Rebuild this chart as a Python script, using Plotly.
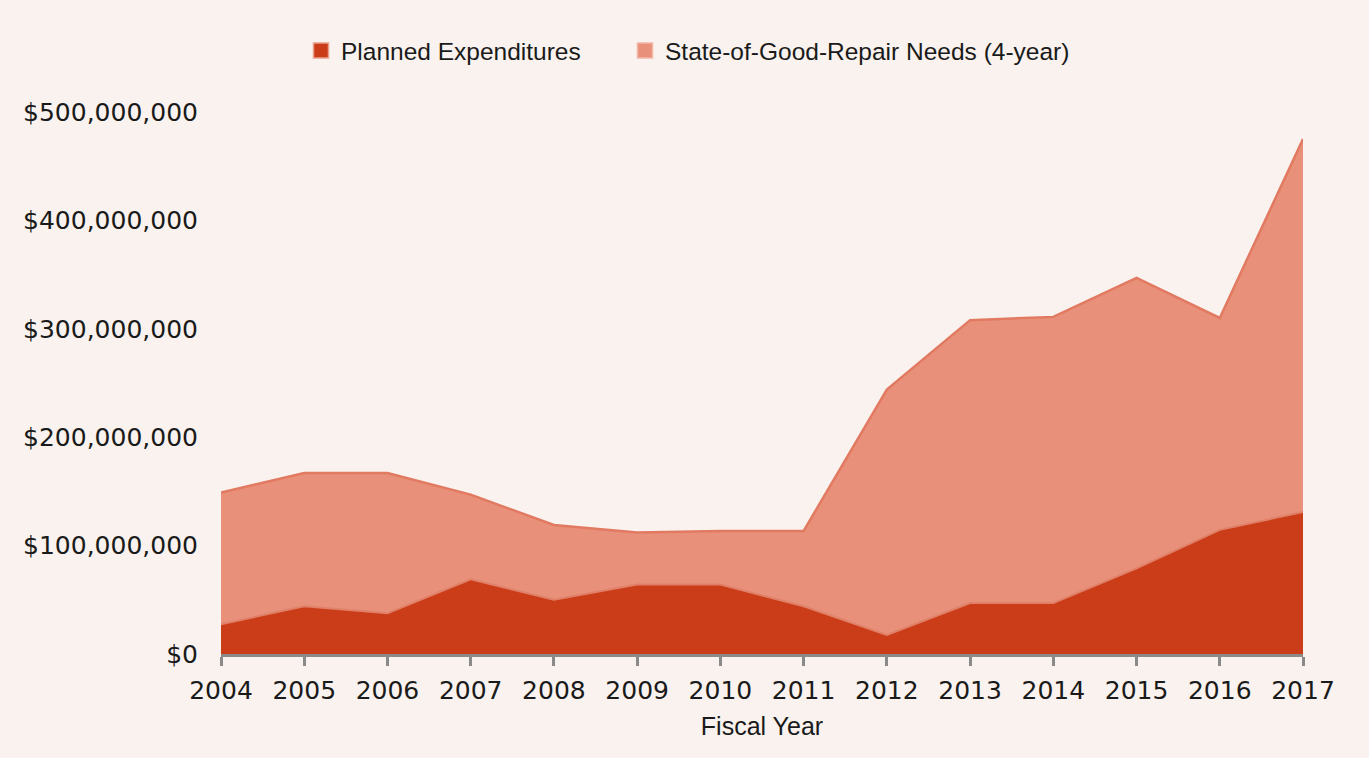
import plotly.graph_objects as go

# Fiscal years and dollar amounts (millions of dollars)
years = [2004, 2005, 2006, 2007, 2008, 2009, 2010, 2011, 2012, 2013, 2014, 2015, 2016, 2017]
planned_musd = [27.5, 44, 37.5, 69, 50, 64, 64, 44, 17.5, 47, 47, 79, 114.5, 131]
sogr_needs_musd = [149, 167, 167, 147, 119, 112, 113.5, 113.5, 244, 308, 311, 347, 310, 475]
y_ticks = [0, 100e6, 200e6, 300e6, 400e6, 500e6]
y_tick_labels = ["$0", "$100,000,000", "$200,000,000", "$300,000,000", "$400,000,000", "$500,000,000"]

planned = [v * 1e6 for v in planned_musd]
needs = [v * 1e6 for v in sogr_needs_musd]

BG = "#F9F2EE"
DARK = "#CB3D18"
LIGHT = "#E8907A"
TICK_FONT = dict(family="DejaVu Sans", size=25, color="#1a1a1a")
TEXT_FONT = dict(family="Liberation Sans", size=25, color="#1a1a1a")
LEGEND_FONT = dict(family="Liberation Sans", size=24.5, color="#1a1a1a")

fig = go.Figure()

# Needs area sits behind the planned expenditures area
fig.add_trace(go.Scatter(
    x=years, y=needs, mode="lines", fill="tozeroy",
    fillcolor=LIGHT, line=dict(color="#E27A62", width=2.5),
    showlegend=False, hoverinfo="x+y",
))
fig.add_trace(go.Scatter(
    x=years, y=planned, mode="lines", fill="tozeroy",
    fillcolor=DARK, line=dict(color="#E08068", width=2),
    showlegend=False, hoverinfo="x+y",
))

# Square legend keys, one legend box each so they can be spaced freely
fig.add_trace(go.Scatter(
    x=[None], y=[None], mode="markers", name="Planned Expenditures",
    marker=dict(symbol="square", size=15, color=DARK, line=dict(color="#E9A08C", width=1.5)),
    legend="legend",
))
fig.add_trace(go.Scatter(
    x=[None], y=[None], mode="markers", name="State-of-Good-Repair Needs (4-year)",
    marker=dict(symbol="square", size=15, color=LIGHT, line=dict(color="#F2B6A6", width=1.5)),
    legend="legend2",
))

legend_common = dict(
    orientation="h", xref="container", xanchor="left",
    yref="container", y=0.963, yanchor="top",
    font=LEGEND_FONT, bgcolor="rgba(0,0,0,0)", itemwidth=30,
)

fig.update_layout(
    width=1369, height=758,
    paper_bgcolor=BG, plot_bgcolor=BG,
    margin=dict(l=221, r=66, t=112, b=104),
    font=TEXT_FONT,
    legend=dict(legend_common, x=301 / 1369),
    legend2=dict(legend_common, x=625 / 1369),
    xaxis=dict(
        range=[2004, 2017], tickmode="array", tickvals=years,
        showgrid=False, zeroline=False,
        showline=True, linecolor="#8a8a8a", linewidth=2.5,
        ticks="outside", ticklen=9, tickwidth=2.5, tickcolor="#8a8a8a",
        tickfont=TICK_FONT, ticklabelstandoff=3,
        title=dict(text="Fiscal Year", font=TEXT_FONT, standoff=14),
    ),
    yaxis=dict(
        range=[0, 500e6], tickmode="array", tickvals=y_ticks, ticktext=y_tick_labels,
        showgrid=False, zeroline=False, showline=False,
        ticks="", tickfont=TICK_FONT, ticklabelstandoff=22,
    ),
)

fig.write_html("out.html")
